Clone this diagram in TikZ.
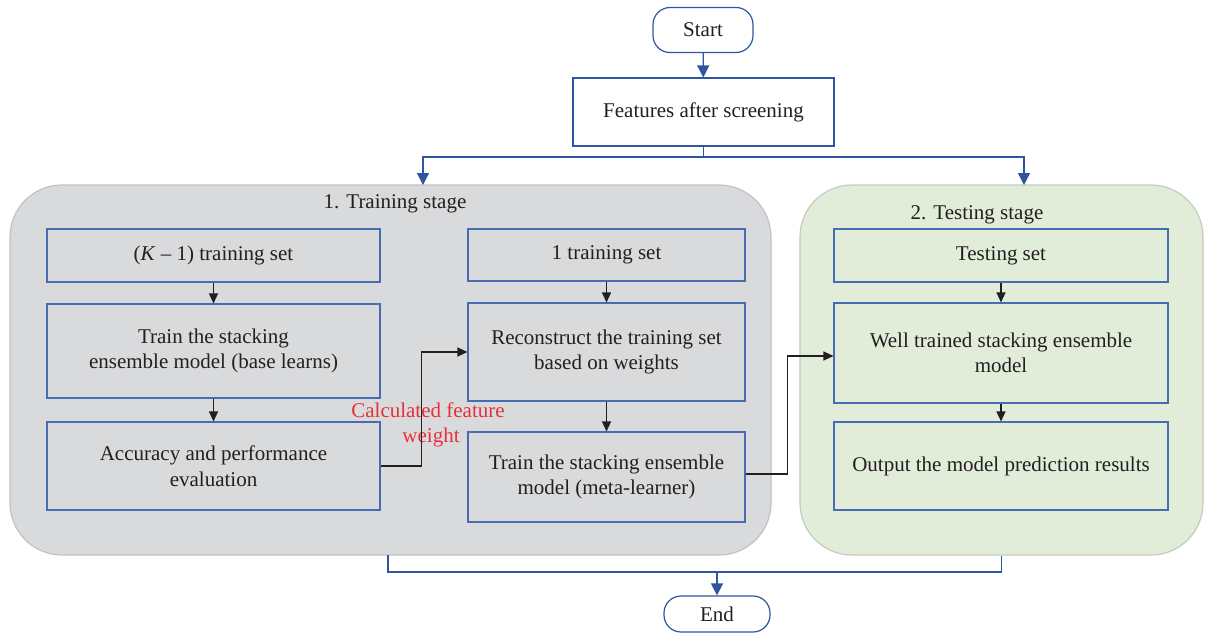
\documentclass[tikz,border=0pt]{standalone}
\usepackage{fontspec}
\setmainfont{Liberation Serif}
\usetikzlibrary{arrows.meta}
\definecolor{fblue}{RGB}{47,84,160}
\definecolor{bblue}{RGB}{72,108,178}
\definecolor{gfill}{RGB}{217,218,220}
\definecolor{gline}{RGB}{192,194,197}
\definecolor{tfill}{RGB}{226,237,217}
\definecolor{tline}{RGB}{196,203,192}
\definecolor{ink}{RGB}{35,31,32}
\definecolor{redtxt}{RGB}{232,48,58}
\begin{document}
\begin{tikzpicture}[x=1pt,y=-1pt,
  font=\fontsize{21}{25.5}\selectfont, text=ink,
  group/.style={rounded corners=52pt, line width=1.2pt, inner sep=0pt},
  box/.style={draw=bblue, line width=1.1pt, align=center, inner sep=0pt},
  term/.style={draw=fblue, line width=1.2pt, rounded corners=17pt, fill=white, inner sep=0pt},
  flow/.style={draw=fblue, line width=1.3pt},
  flowarrow/.style={flow, -{Triangle[length=12pt,width=12pt]}},
  link/.style={draw=ink, line width=1.2pt, -{Triangle[length=10pt,width=9pt]}}]
\useasboundingbox (0,0) rectangle (1206,635);
% groups
\node[group, fill=gfill, draw=gline, minimum width=761pt, minimum height=370pt] (train) at (390.5,370) {};
\node[group, fill=tfill, draw=tline, minimum width=403pt, minimum height=370pt] (tstg) at (1001.5,370) {};
\node (t1) at (395,204) {1. Training stage};
\node (t2) at (977,215) {2. Testing stage};
% terminals and top box
\node[term, minimum width=100pt, minimum height=45pt] (start) at (703,30) {Start};
\node[box, fill=white, draw=fblue, minimum width=261pt, minimum height=68pt] (feat) at (703.5,112) {Features after screening};
\node[term, minimum width=106pt, minimum height=36pt] (end) at (717,614) {End};
% left column
\node[box, minimum width=333pt, minimum height=53pt] (k1) at (213.5,255.5) {(\textit{K} – 1) training set};
\node[box, minimum width=333pt, minimum height=94pt] (base) at (213.5,351) {Train the stacking\\ensemble model (base learns)};
\node[box, minimum width=333pt, minimum height=88pt] (acc) at (213.5,466) {Accuracy and performance\\evaluation};
% middle column
\node[box, minimum width=277pt, minimum height=52pt] (one) at (606.5,255) {1 training set};
\node[box, minimum width=277pt, minimum height=98pt] (rec) at (606.5,352) {Reconstruct the training set\\based on weights};
\node[box, minimum width=277pt, minimum height=90pt] (meta) at (606.5,477) {Train the stacking ensemble\\model (meta-learner)};
% right column
\node[box, minimum width=334pt, minimum height=53pt] (test) at (1001,255.5) {Testing set};
\node[box, minimum width=334pt, minimum height=100pt] (well) at (1001,353) {Well trained stacking ensemble\\model};
\node[box, minimum width=334pt, minimum height=88pt] (out) at (1001,466) {Output the model prediction results};
% red label
\node[text=redtxt, align=center, inner sep=0pt] (cfw) at (428,425) {Calculated feature\\\hspace*{6pt}weight};
% flow connectors
\draw[flowarrow] (start) -- (feat);
\coordinate (split) at (703.5,157);
\coordinate (tl) at (423,185);
\coordinate (tr) at (1024,185);
\draw[flow] (feat.south) -- (split);
\draw[flowarrow] (split) -| (tl);
\draw[flowarrow] (split) -| (tr);
\coordinate (bl) at (388,555);
\coordinate (merge) at (717,572);
\draw[flow] (bl) |- (merge) -| (tstg.south);
\draw[flowarrow] (merge) -- (end);
% inner connectors
\draw[link] (k1) -- (base);
\draw[link] (base) -- (acc);
\draw[link] (one) -- (rec);
\draw[link] (rec) -- (meta);
\draw[link] (test) -- (well);
\draw[link] (well) -- (out);
\draw[link] (acc.east) -- ++(41,0) |- (rec.west);
\draw[link] ([yshift=3pt]meta.east) -- ++(42,0) |- ([yshift=-3pt]well.west);
\end{tikzpicture}
\end{document}
